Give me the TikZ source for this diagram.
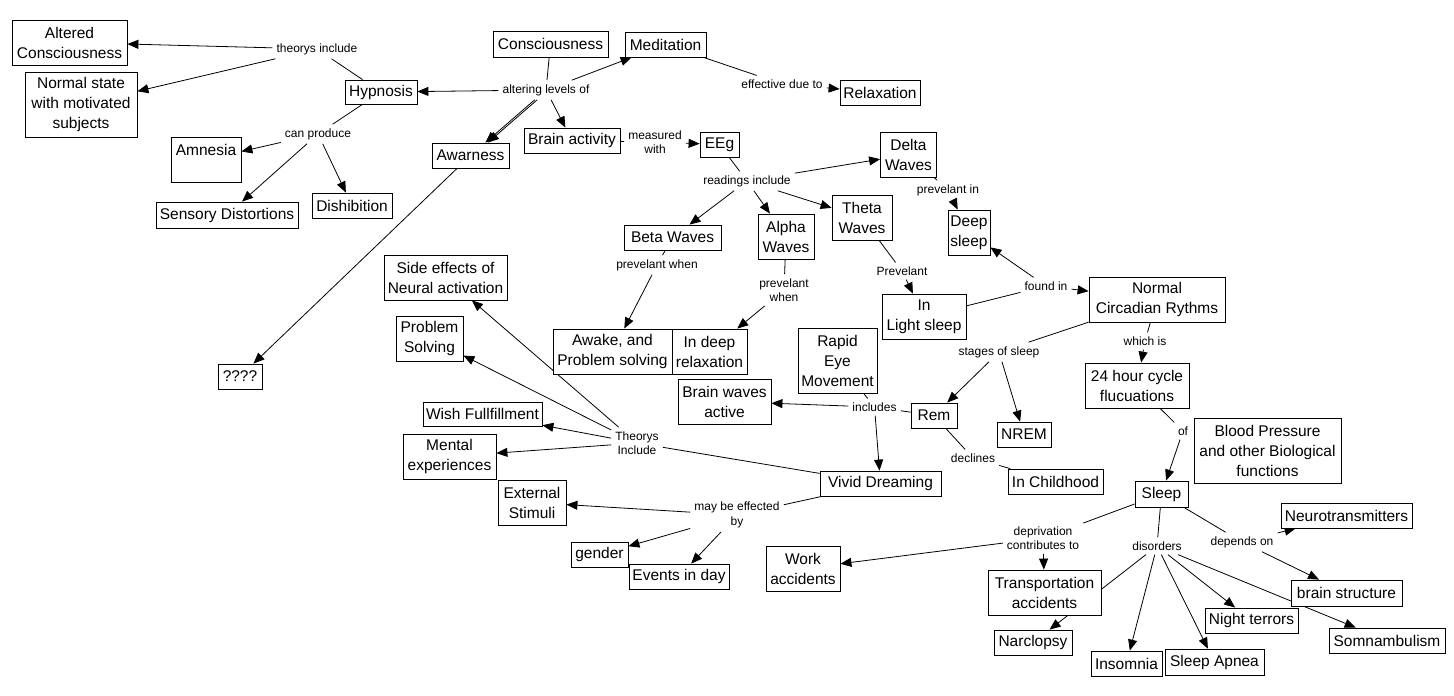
\documentclass[tikz,border=0pt]{standalone}
\usepackage{fontspec}
\setmainfont{Liberation Sans}
\usetikzlibrary{arrows.meta, backgrounds}

\begin{document}
\begin{tikzpicture}[x=1pt, y=-1pt,
    concept/.style={draw, fill=white, line width=0.8pt, align=center, inner sep=2pt,
        font=\fontsize{15.5}{20}\selectfont},
    sz/.style 2 args={minimum width=#1pt, minimum height=#2pt},
    phrase/.style={align=center, inner sep=4pt, font=\fontsize{12}{14.5}\selectfont},
    plain/.style={line width=0.8pt},
    link/.style={line width=0.8pt, -{Triangle[length=11pt, width=9pt]}}]
    \useasboundingbox (0,0) rectangle (1454,696);

    % concepts
    \node[concept, sz={115}{45}] (altered) at (69.5,42.5) {Altered\\Consciousness};
    \node[concept, sz={112}{65}] (normal) at (81,104.5) {Normal state\\with motivated\\subjects};
    \node[concept, sz={72}{24}] (hypnosis) at (381,92) {Hypnosis};
    \node[concept, sz={70}{45}] (amnesia) at (206,159.5) {Amnesia\\\phantom{A}};
    \node[concept, sz={142}{26}] (sensory) at (227,215) {Sensory Distortions};
    \node[concept, sz={80}{25}] (dishib) at (352,205.5) {Dishibition};
    \node[concept, sz={115}{26}] (consc) at (550.5,44) {Consciousness};
    \node[concept, sz={81}{25}] (medit) at (665.5,44.5) {Meditation};
    \node[concept, sz={80}{25}] (relax) at (880,92.5) {Relaxation};
    \node[concept, sz={77}{25}] (awar) at (470.5,155.5) {Awarness};
    \node[concept, sz={96}{25}] (brainact) at (572,140.5) {Brain activity};
    \node[concept, sz={39}{25}] (eeg) at (719.5,144.5) {EEg};
    \node[concept, sz={56}{45}] (delta) at (908.5,154.5) {Delta\\Waves};
    \node[concept, sz={60}{45}] (theta) at (862,217.5) {Theta\\Waves};
    \node[concept, sz={56}{45}] (alpha) at (786,236.5) {Alpha\\Waves};
    \node[concept, sz={97}{25}] (beta) at (672.5,237.5) {Beta Waves};
    \node[concept, sz={42}{45}] (deep) at (969,232.5) {Deep\\sleep};
    \node[concept, sz={84}{45}] (light) at (924,316.5) {In\\Light sleep};
    \node[concept, sz={136}{45}] (circ) at (1157,299.5) {Normal\\Circadian Rythms};
    \node[concept, sz={104}{45}] (cycle) at (1137,385.5) {24 hour cycle\\flucuations};
    \node[concept, sz={147}{65}] (blood) at (1267.5,450.5) {Blood Pressure\\and other Biological\\functions};
    \node[concept, sz={53}{26}] (sleep) at (1161.5,494) {Sleep};
    \node[concept, sz={46}{25}] (rem) at (934,415.5) {Rem};
    \node[concept, sz={54}{25}] (nrem) at (1024,434.5) {NREM};
    \node[concept, sz={95}{25}] (child) at (1055.5,481.5) {In Childhood};
    \node[concept, sz={121}{25}] (vivid) at (880.5,483.5) {Vivid Dreaming};
    \node[concept, sz={93}{45}] (bwactive) at (724.5,401.5) {Brain waves\\active};
    \node[concept, sz={79}{65}] (rapid) at (837.5,360.5) {Rapid\\Eye\\Movement};
    \node[concept, sz={119}{45}] (awake) at (612.5,351.5) {Awake, and\\Problem solving};
    \node[concept, sz={75}{45}] (indeep) at (709.5,351.5) {In deep\\relaxation};
    \node[concept, sz={123}{45}] (side) at (445.5,277.5) {Side effects of\\Neural activation};
    \node[concept, sz={67}{45}] (probsolv) at (429.5,338.5) {Problem\\Solving};
    \node[concept, sz={44}{25}] (unknown) at (240,376.5) {????};
    \node[concept, sz={119}{24}] (wish) at (482.5,414) {Wish Fullfillment};
    \node[concept, sz={93}{45}] (mental) at (449.5,456.5) {Mental\\experiences};
    \node[concept, sz={68}{45}] (external) at (532,502.5) {External\\Stimuli};
    \node[concept, sz={57}{25}] (gender) at (599.5,554.5) {gender};
    \node[concept, sz={100}{25}] (events) at (679,576.5) {Events in day};
    \node[concept, sz={74}{45}] (work) at (803,568.5) {Work\\accidents};
    \node[concept, sz={113}{45}] (transp) at (1044.5,592.5) {Transportation\\accidents};
    \node[concept, sz={78}{25}] (narc) at (1033,642.5) {Narclopsy};
    \node[concept, sz={71}{25}] (insom) at (1126.5,663.5) {Insomnia};
    \node[concept, sz={99}{26}] (apnea) at (1214.5,662) {Sleep Apnea};
    \node[concept, sz={93}{25}] (night) at (1251.5,620.5) {Night terrors};
    \node[concept, sz={116}{25}] (somn) at (1387,640.5) {Somnambulism};
    \node[concept, sz={111}{26}] (bstruct) at (1346.5,593) {brain structure};
    \node[concept, sz={131}{25}] (neuro) at (1346.5,515.5) {Neurotransmitters};

    % linking phrases
    \node[phrase] (thinc) at (317,49) {theorys include};
    \node[phrase] (canprod) at (318,134) {can produce};
    \node[phrase] (alter) at (546,90) {altering levels of};
    \node[phrase] (effdue) at (782,84) {effective due to};
    \node[phrase] (meas) at (655,142) {measured\\with};
    \node[phrase] (readings) at (747,181) {readings include};
    \node[phrase] (previn) at (948,190) {prevelant in};
    \node[phrase] (prevwhenb) at (657,265) {prevelant when};
    \node[phrase] (prevwhena) at (784,290) {prevelant\\when};
    \node[phrase] (prevlight) at (902,271) {Prevelant};
    \node[phrase] (foundin) at (1046,286) {found in};
    \node[phrase] (stages) at (999,352) {stages of sleep};
    \node[phrase] (whichis) at (1145,341) {which is};
    \node[phrase] (includes) at (874.5,407) {includes};
    \node[phrase] (declines) at (973,458) {declines};
    \node[phrase] (of) at (1183,431) {of};
    \node[phrase] (theorysinc) at (637,443) {Theorys\\Include};
    \node[phrase] (maybe) at (737,515) {may be effected\\by};
    \node[phrase] (depriv) at (1043,538) {deprivation\\contributes to};
    \node[phrase] (disord) at (1157,546) {disorders};
    \node[phrase] (depends) at (1242,542) {depends on};

    \begin{scope}[on background layer]
        \foreach \a\b in {hypnosis/thinc, hypnosis/canprod, consc/alter, medit/effdue,
            brainact/meas, eeg/readings, delta/previn, beta/prevwhenb, alpha/prevwhena,
            theta/prevlight, light/foundin, circ/stages, circ/whichis, rapid/includes,
            rem/includes, rem/declines, cycle/of, vivid/theorysinc, vivid/maybe,
            sleep/depriv, sleep/disord, sleep/depends, declines/child} {
            \draw[plain] (\a)--(\b);
        }

        \foreach \a\b in {thinc/altered, thinc/normal, canprod/amnesia, canprod/sensory,
            canprod/dishib, alter/hypnosis, alter/medit, alter/brainact, alter/awar,
            awar/unknown, effdue/relax, meas/eeg, readings/delta, readings/theta,
            readings/alpha, readings/beta, previn/deep, prevwhenb/awake, prevwhena/indeep,
            prevlight/light, foundin/deep, foundin/circ, stages/rem, stages/nrem,
            whichis/cycle, includes/bwactive, includes/vivid, of/sleep,
            theorysinc/side, theorysinc/probsolv, theorysinc/wish, theorysinc/mental,
            maybe/external, maybe/gender, maybe/events, depriv/work, depriv/transp,
            disord/narc, disord/insom, disord/apnea, disord/night, disord/somn,
            depends/neuro, depends/bstruct} {
            \draw[link] (\a)--(\b);
        }
        \draw[link, transform canvas={xshift=2.5pt}] (alter)--(awar);
    \end{scope}
\end{tikzpicture}
\end{document}
